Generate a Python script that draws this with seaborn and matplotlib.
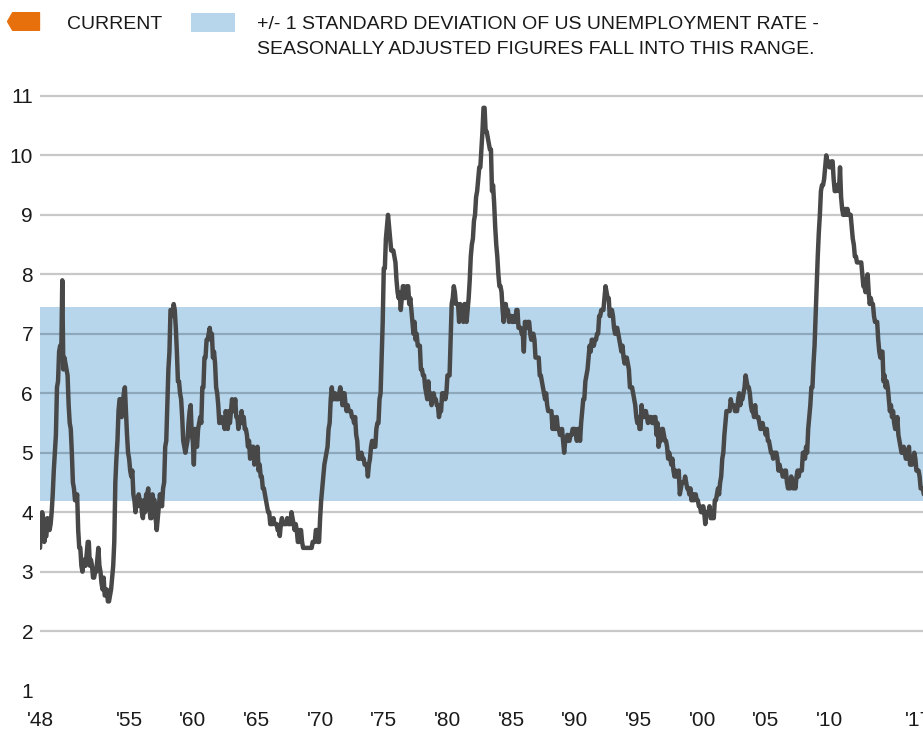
import numpy as np
import pandas as pd
import matplotlib
matplotlib.use("Agg")
import matplotlib.pyplot as plt
import seaborn as sns

from matplotlib.lines import Line2D
from matplotlib.patches import Patch
from matplotlib.path import Path

# monthly US unemployment rate, seasonally adjusted, from Jan 1948
start_year = 1948
rate_1948_1957 = [
    3.4, 3.8, 4.0, 3.9, 3.5, 3.6, 3.6, 3.9, 3.8, 3.7, 3.8, 4.0,
    4.3, 4.7, 5.0, 5.3, 6.1, 6.2, 6.7, 6.8, 6.6, 7.9, 6.4, 6.6,
    6.5, 6.4, 6.3, 5.8, 5.5, 5.4, 5.0, 4.5, 4.4, 4.2, 4.2, 4.3,
    3.7, 3.4, 3.4, 3.1, 3.0, 3.2, 3.1, 3.1, 3.3, 3.5, 3.5, 3.1,
    3.2, 3.1, 2.9, 2.9, 3.0, 3.0, 3.2, 3.4, 3.1, 3.0, 2.8, 2.7,
    2.9, 2.6, 2.6, 2.7, 2.5, 2.5, 2.6, 2.7, 2.9, 3.1, 3.5, 4.5,
    4.9, 5.2, 5.7, 5.9, 5.9, 5.6, 5.8, 6.0, 6.1, 5.7, 5.3, 5.0,
    4.9, 4.7, 4.6, 4.7, 4.3, 4.2, 4.0, 4.2, 4.1, 4.3, 4.2, 4.2,
    4.0, 3.9, 4.2, 4.0, 4.3, 4.3, 4.4, 4.1, 3.9, 3.9, 4.3, 4.2,
    4.2, 3.9, 3.7, 3.9, 4.1, 4.3, 4.2, 4.1, 4.4, 4.5, 5.1, 5.2,
]
rate_1958_1967 = [
    5.8, 6.4, 6.7, 7.4, 7.4, 7.3, 7.5, 7.4, 7.1, 6.7, 6.2, 6.2,
    6.0, 5.9, 5.6, 5.2, 5.1, 5.0, 5.1, 5.2, 5.5, 5.7, 5.8, 5.3,
    5.2, 4.8, 5.4, 5.2, 5.1, 5.4, 5.5, 5.6, 5.5, 6.1, 6.1, 6.6,
    6.6, 6.9, 6.9, 7.0, 7.1, 6.9, 7.0, 6.6, 6.7, 6.5, 6.1, 6.0,
    5.8, 5.5, 5.6, 5.6, 5.5, 5.5, 5.4, 5.7, 5.6, 5.4, 5.7, 5.5,
    5.7, 5.9, 5.7, 5.7, 5.9, 5.6, 5.6, 5.4, 5.5, 5.5, 5.7, 5.5,
    5.6, 5.4, 5.4, 5.3, 5.1, 5.2, 4.9, 5.0, 5.1, 5.1, 4.8, 5.0,
    4.9, 5.1, 4.7, 4.8, 4.6, 4.6, 4.4, 4.4, 4.3, 4.2, 4.1, 4.0,
    4.0, 3.8, 3.8, 3.8, 3.9, 3.8, 3.8, 3.8, 3.7, 3.7, 3.6, 3.8,
    3.9, 3.8, 3.8, 3.8, 3.8, 3.9, 3.8, 3.8, 3.8, 4.0, 3.9, 3.8,
]
rate_1968_1977 = [
    3.7, 3.8, 3.7, 3.5, 3.5, 3.7, 3.7, 3.5, 3.4, 3.4, 3.4, 3.4,
    3.4, 3.4, 3.4, 3.4, 3.4, 3.5, 3.5, 3.5, 3.7, 3.7, 3.5, 3.5,
    3.9, 4.2, 4.4, 4.6, 4.8, 4.9, 5.0, 5.1, 5.4, 5.5, 5.9, 6.1,
    5.9, 5.9, 6.0, 5.9, 5.9, 5.9, 6.0, 6.1, 6.0, 5.8, 6.0, 6.0,
    5.8, 5.7, 5.8, 5.7, 5.7, 5.7, 5.6, 5.6, 5.5, 5.6, 5.3, 5.2,
    4.9, 5.0, 4.9, 5.0, 4.9, 4.9, 4.8, 4.8, 4.8, 4.6, 4.8, 4.9,
    5.1, 5.2, 5.1, 5.1, 5.1, 5.4, 5.5, 5.5, 5.9, 6.0, 6.6, 7.2,
    8.1, 8.1, 8.6, 8.8, 9.0, 8.8, 8.6, 8.4, 8.4, 8.4, 8.3, 8.2,
    7.9, 7.7, 7.6, 7.7, 7.4, 7.6, 7.8, 7.8, 7.6, 7.7, 7.8, 7.8,
    7.5, 7.6, 7.4, 7.2, 7.0, 7.2, 6.9, 7.0, 6.8, 6.8, 6.8, 6.4,
]
rate_1978_1987 = [
    6.4, 6.3, 6.3, 6.1, 6.0, 5.9, 6.2, 5.9, 6.0, 5.8, 5.9, 6.0,
    5.9, 5.9, 5.8, 5.8, 5.6, 5.7, 5.7, 6.0, 5.9, 6.0, 5.9, 6.0,
    6.3, 6.3, 6.3, 6.9, 7.5, 7.6, 7.8, 7.7, 7.5, 7.5, 7.5, 7.2,
    7.5, 7.4, 7.4, 7.2, 7.5, 7.5, 7.2, 7.4, 7.6, 7.9, 8.3, 8.5,
    8.6, 8.9, 9.0, 9.3, 9.4, 9.6, 9.8, 9.8, 10.1, 10.4, 10.8, 10.8,
    10.4, 10.4, 10.3, 10.2, 10.1, 10.1, 9.4, 9.5, 9.2, 8.8, 8.5, 8.3,
    8.0, 7.8, 7.8, 7.7, 7.4, 7.2, 7.5, 7.5, 7.3, 7.4, 7.2, 7.3,
    7.3, 7.2, 7.2, 7.3, 7.2, 7.4, 7.4, 7.1, 7.1, 7.1, 7.0, 7.0,
    6.7, 7.2, 7.2, 7.1, 7.2, 7.2, 7.0, 6.9, 7.0, 7.0, 6.9, 6.6,
    6.6, 6.6, 6.6, 6.3, 6.3, 6.2, 6.1, 6.0, 5.9, 6.0, 5.8, 5.7,
]
rate_1988_1997 = [
    5.7, 5.7, 5.7, 5.4, 5.6, 5.4, 5.4, 5.6, 5.4, 5.4, 5.3, 5.3,
    5.4, 5.2, 5.0, 5.2, 5.2, 5.3, 5.2, 5.2, 5.3, 5.3, 5.4, 5.4,
    5.4, 5.3, 5.2, 5.4, 5.4, 5.2, 5.5, 5.7, 5.9, 5.9, 6.2, 6.3,
    6.4, 6.6, 6.8, 6.7, 6.9, 6.9, 6.8, 6.9, 6.9, 7.0, 7.0, 7.3,
    7.3, 7.4, 7.4, 7.4, 7.6, 7.8, 7.7, 7.6, 7.6, 7.3, 7.4, 7.4,
    7.3, 7.1, 7.0, 7.1, 7.1, 7.0, 6.9, 6.8, 6.7, 6.8, 6.6, 6.5,
    6.6, 6.6, 6.5, 6.4, 6.1, 6.1, 6.1, 6.0, 5.9, 5.8, 5.6, 5.5,
    5.6, 5.4, 5.4, 5.8, 5.6, 5.6, 5.7, 5.7, 5.6, 5.5, 5.6, 5.6,
    5.6, 5.5, 5.5, 5.6, 5.6, 5.3, 5.5, 5.1, 5.2, 5.2, 5.4, 5.4,
    5.3, 5.2, 5.2, 5.1, 4.9, 5.0, 4.9, 4.8, 4.9, 4.7, 4.6, 4.7,
]
rate_1998_2007 = [
    4.6, 4.6, 4.7, 4.3, 4.4, 4.5, 4.5, 4.5, 4.6, 4.5, 4.4, 4.4,
    4.3, 4.4, 4.2, 4.3, 4.2, 4.3, 4.3, 4.2, 4.2, 4.1, 4.1, 4.0,
    4.0, 4.1, 4.0, 3.8, 4.0, 4.0, 4.0, 4.1, 3.9, 3.9, 3.9, 3.9,
    4.2, 4.2, 4.3, 4.4, 4.3, 4.5, 4.6, 4.9, 5.0, 5.3, 5.5, 5.7,
    5.7, 5.7, 5.7, 5.9, 5.8, 5.8, 5.8, 5.7, 5.7, 5.7, 5.9, 6.0,
    5.8, 5.9, 5.9, 6.0, 6.1, 6.3, 6.2, 6.1, 6.1, 6.0, 5.8, 5.7,
    5.7, 5.6, 5.8, 5.6, 5.6, 5.6, 5.5, 5.4, 5.4, 5.5, 5.4, 5.4,
    5.3, 5.4, 5.2, 5.2, 5.1, 5.0, 5.0, 4.9, 5.0, 5.0, 5.0, 4.9,
    4.7, 4.8, 4.7, 4.7, 4.6, 4.6, 4.7, 4.7, 4.5, 4.4, 4.5, 4.4,
    4.6, 4.5, 4.4, 4.5, 4.4, 4.6, 4.7, 4.6, 4.7, 4.7, 4.7, 5.0,
]
rate_2008_2017 = [
    5.0, 4.9, 5.1, 5.0, 5.4, 5.6, 5.8, 6.1, 6.1, 6.5, 6.8, 7.3,
    7.8, 8.3, 8.7, 9.0, 9.4, 9.5, 9.5, 9.6, 9.8, 10.0, 9.9, 9.9,
    9.8, 9.8, 9.9, 9.9, 9.6, 9.4, 9.4, 9.5, 9.5, 9.4, 9.8, 9.3,
    9.1, 9.0, 9.0, 9.1, 9.0, 9.1, 9.0, 9.0, 9.0, 8.8, 8.6, 8.5,
    8.3, 8.3, 8.2, 8.2, 8.2, 8.2, 8.2, 8.0, 7.8, 7.8, 7.7, 7.9,
    8.0, 7.7, 7.5, 7.6, 7.5, 7.5, 7.3, 7.2, 7.2, 7.2, 6.9, 6.7,
    6.6, 6.7, 6.7, 6.2, 6.3, 6.1, 6.2, 6.1, 5.9, 5.7, 5.8, 5.6,
    5.7, 5.5, 5.4, 5.4, 5.6, 5.3, 5.2, 5.1, 5.0, 5.0, 5.1, 5.0,
    4.9, 4.9, 5.0, 5.1, 4.8, 4.9, 4.8, 4.9, 5.0, 4.9, 4.7, 4.7,
    4.7, 4.6, 4.4, 4.4, 4.4, 4.3,
]

# +/- 1 standard deviation range
band_low, band_high = 4.18, 7.45

tick_years = [1948, 1955, 1960, 1965, 1970, 1975, 1980, 1985, 1990, 1995,
              2000, 2005, 2010, 2017]
tick_labels = ["'48", "'55", "'60", "'65", "'70", "'75", "'80", "'85", "'90",
               "'95", "'00", "'05", "'10", "'17"]
y_ticks = list(range(1, 12))

legend_labels = ["CURRENT",
                 "+/- 1 STANDARD DEVIATION OF US UNEMPLOYMENT RATE -"]
legend_line2 = "SEASONALLY ADJUSTED FIGURES FALL INTO THIS RANGE."

line_color = "#484848"
band_color = "#B7D6EC"
orange = "#E8700C"
text_color = "#1a1a1a"

# preamble
sns.set_theme(style="white")
plt.rcParams["font.family"] = ["Liberation Sans", "DejaVu Sans"]

rate = np.array(rate_1948_1957 + rate_1958_1967 + rate_1968_1977
                + rate_1978_1987 + rate_1988_1997 + rate_1998_2007
                + rate_2008_2017)
data = pd.DataFrame({"year": start_year + np.arange(len(rate)) / 12,
                     "rate": rate})

W, H = 923, 731
fig = plt.figure(figsize=(W / 100, H / 100), dpi=100)
ax = fig.add_axes([40 / W, 0.05527, 883 / W, 0.8257])

ax.axhspan(band_low, band_high, color=band_color, lw=0, zorder=1)
sns.lineplot(x="year", y="rate", data=data, color=line_color, lw=3.2,
             estimator=None, ax=ax, zorder=3)

ax.set_xlim(1948, 2017.35)
ax.set_ylim(1, 11.15)
ax.set_xticks(tick_years, tick_labels)
ax.set_yticks(y_ticks)
ax.set_xlabel("")
ax.set_ylabel("")
ax.tick_params(length=0, labelsize=15, colors=text_color)
ax.tick_params(axis="y", pad=5)
ax.tick_params(axis="x", pad=15)
sns.despine(ax=ax, left=True, bottom=True)

ax.set_axisbelow("line")
ax.yaxis.grid(True, color="#C8C8C8", lw=1.6)
ax.xaxis.grid(False)
for val, gl in zip(y_ticks, ax.get_ygridlines()):
    if val == 1:
        gl.set_visible(False)
    elif band_low < val < band_high:
        gl.set_color("#8DA7BB")

# legend
tag = Path([(-1, 0), (-0.68, 0.55), (1, 0.55), (1, -0.55), (-0.68, -0.55),
            (-1, 0)], closed=True)
handles = [Line2D([], [], ls="none", marker=tag, markersize=23, color=orange,
                  markeredgecolor=orange),
           Patch(facecolor=band_color, edgecolor="none")]
fig.legend(handles, legend_labels, loc="upper left",
           bbox_to_anchor=(1 / W, 1 - 13 / H), ncol=2, frameon=False,
           fontsize=14, handlelength=2.26, handleheight=1.1,
           handletextpad=1.13, columnspacing=1.5, borderpad=0,
           borderaxespad=0, labelcolor=text_color)
fig.text(257 / W, 1 - 50 / H, legend_line2, fontsize=14, color=text_color,
         ha="left", va="center")

fig.savefig("out.png", dpi=100)
